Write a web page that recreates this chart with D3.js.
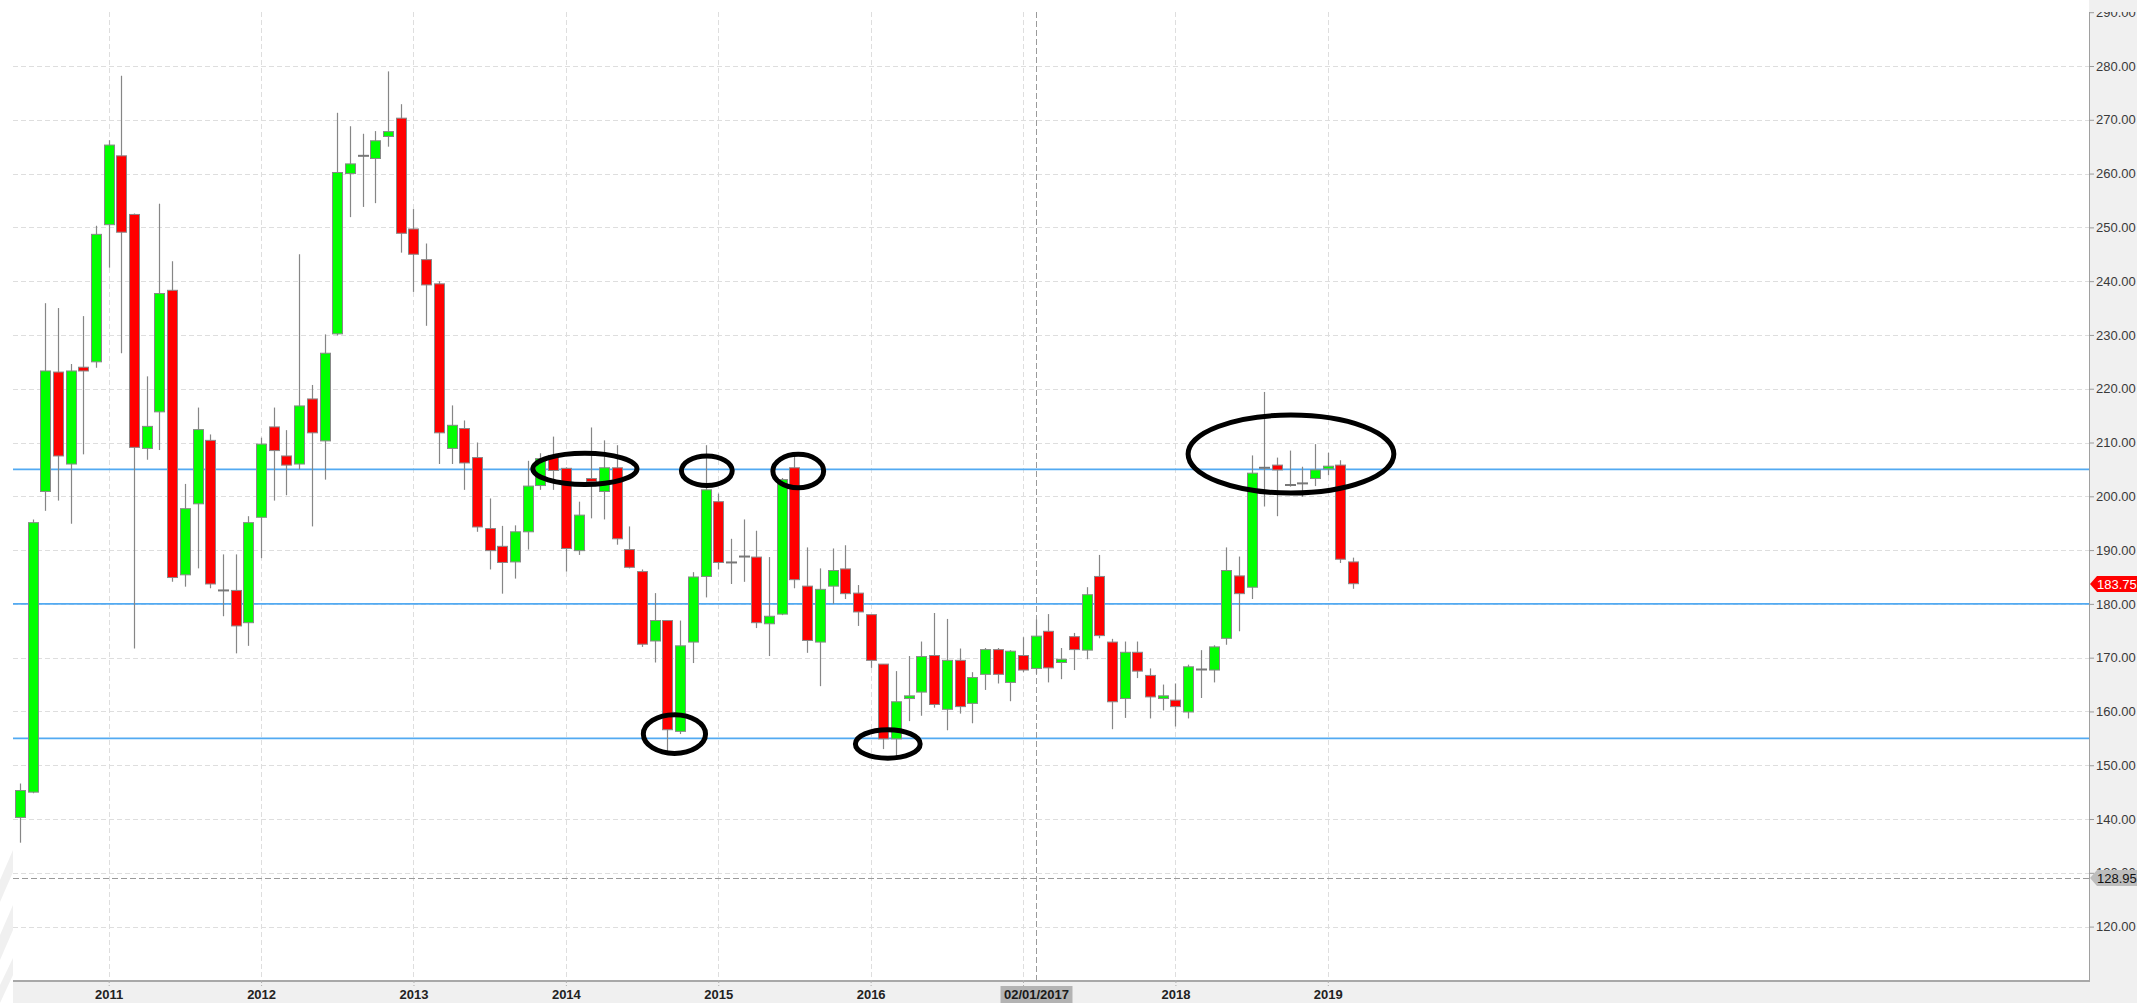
<!DOCTYPE html>
<html>
<head>
<meta charset="utf-8">
<script src="https://cdn.jsdelivr.net/npm/d3@7"></script>
<style>
  html, body { margin: 0; padding: 0; background: #fff; overflow: hidden; }
</style>
</head>
<body>
<div id="chart"></div>
<script>
// monthly candles, May 2010 .. Mar 2019
const months = [
  '2010-05','2010-06','2010-07','2010-08','2010-09','2010-10','2010-11','2010-12',
  '2011-01','2011-02','2011-03','2011-04','2011-05','2011-06','2011-07','2011-08','2011-09','2011-10','2011-11','2011-12',
  '2012-01','2012-02','2012-03','2012-04','2012-05','2012-06','2012-07','2012-08','2012-09','2012-10','2012-11','2012-12',
  '2013-01','2013-02','2013-03','2013-04','2013-05','2013-06','2013-07','2013-08','2013-09','2013-10','2013-11','2013-12',
  '2014-01','2014-02','2014-03','2014-04','2014-05','2014-06','2014-07','2014-08','2014-09','2014-10','2014-11','2014-12',
  '2015-01','2015-02','2015-03','2015-04','2015-05','2015-06','2015-07','2015-08','2015-09','2015-10','2015-11','2015-12',
  '2016-01','2016-02','2016-03','2016-04','2016-05','2016-06','2016-07','2016-08','2016-09','2016-10','2016-11','2016-12',
  '2017-01','2017-02','2017-03','2017-04','2017-05','2017-06','2017-07','2017-08','2017-09','2017-10','2017-11','2017-12',
  '2018-01','2018-02','2018-03','2018-04','2018-05','2018-06','2018-07','2018-08','2018-09','2018-10','2018-11','2018-12',
  '2019-01','2019-02','2019-03'
];
const opens = [
  136.5, 140.3, 145.0, 200.9, 223.1, 206.0, 224.0, 225.0,
  250.5, 263.3, 252.4, 208.9, 215.7, 238.3, 185.4, 198.6, 210.4, 182.5, 182.5, 176.5,
  196.1, 212.9, 207.5, 206.0, 218.1, 210.3, 230.2, 260.0, 263.3, 262.8, 266.9, 270.3,
  249.7, 244.0, 239.5, 208.9, 212.6, 207.2, 194.0, 190.7, 187.8, 193.4, 202.0, 207.6,
  205.2, 189.9, 203.3, 200.9, 205.3, 190.1, 186.0, 173.1, 176.9, 156.3, 172.9, 185.1,
  199.0, 187.7, 188.8, 188.7, 176.3, 178.1, 205.3, 183.3, 172.9, 183.3, 186.5, 182.0,
  178.0, 168.8, 154.9, 162.4, 163.6, 170.4, 160.4, 169.5, 161.5, 166.9, 171.5, 165.4,
  170.4, 168.0, 174.9, 169.1, 173.9, 171.4, 185.1, 172.9, 162.4, 171.0, 166.7, 162.4,
  162.1, 159.9, 167.8, 167.7, 173.6, 185.2, 183.1, 205.3, 205.8, 202.1, 202.4, 203.3,
  205.1, 205.8, 187.8
];
const highs = [
  140.6, 146.6, 195.7, 235.9, 235.0, 224.6, 233.5, 250.3,
  266.2, 278.2, 252.6, 222.3, 254.4, 243.7, 202.3, 216.5, 211.5, 189.2, 189.2, 196.3,
  210.9, 216.5, 212.3, 245.0, 220.7, 230.1, 271.3, 268.8, 267.4, 267.9, 279.0, 272.9,
  253.4, 247.0, 240.0, 216.9, 214.1, 210.0, 199.6, 194.5, 194.6, 206.6, 208.0, 211.1,
  205.4, 199.0, 212.8, 210.4, 209.5, 194.4, 186.4, 182.0, 176.9, 176.9, 185.9, 209.5,
  200.5, 192.1, 195.7, 193.6, 188.7, 203.4, 208.1, 190.5, 186.6, 190.3, 190.9, 183.5,
  178.0, 168.8, 167.5, 170.3, 173.0, 178.3, 177.2, 171.7, 167.3, 171.8, 171.8, 171.4,
  173.8, 177.1, 178.1, 171.8, 174.6, 183.1, 189.1, 173.5, 173.0, 173.0, 168.0, 165.0,
  165.2, 168.7, 171.4, 172.3, 190.5, 188.8, 207.6, 219.4, 207.2, 208.5, 205.5, 209.7,
  208.1, 206.7, 188.6
];
const lows = [
  134.5, 135.6, 144.8, 197.3, 199.2, 194.9, 207.8, 223.9,
  242.5, 226.6, 171.7, 206.8, 208.6, 184.1, 183.2, 186.6, 182.9, 177.7, 170.8, 172.2,
  188.5, 199.2, 200.2, 205.0, 194.4, 203.1, 229.9, 251.9, 253.8, 254.5, 265.0, 245.3,
  238.0, 231.7, 206.0, 206.0, 201.2, 193.4, 186.4, 181.9, 184.7, 190.1, 201.2, 201.2,
  186.0, 189.1, 195.9, 195.7, 191.0, 186.6, 172.0, 169.1, 151.9, 155.8, 169.0, 181.2,
  186.4, 183.7, 184.1, 175.5, 170.3, 177.9, 182.9, 170.9, 164.7, 180.0, 180.9, 175.9,
  168.1, 153.0, 151.3, 158.2, 159.2, 160.7, 156.5, 159.6, 157.8, 164.0, 165.2, 161.9,
  167.3, 167.0, 165.4, 166.0, 167.7, 169.7, 173.6, 156.7, 158.8, 166.2, 158.7, 160.2,
  157.2, 158.7, 162.5, 165.4, 172.4, 174.9, 180.9, 198.1, 196.3, 201.8, 199.9, 201.9,
  203.9, 187.6, 182.8
];
const closes = [
  139.5, 145.3, 195.1, 223.3, 207.5, 223.3, 223.3, 248.7,
  265.3, 249.1, 209.1, 213.0, 237.7, 184.9, 197.7, 212.4, 183.7, 182.5, 175.9, 195.1,
  209.7, 208.5, 205.8, 216.8, 211.8, 226.6, 260.2, 261.8, 263.3, 266.1, 267.8, 248.9,
  245.0, 239.3, 211.8, 213.2, 206.2, 194.3, 189.9, 187.7, 193.4, 201.9, 207.0, 204.8,
  190.3, 196.5, 202.7, 205.3, 192.1, 186.8, 172.5, 176.9, 156.6, 172.2, 185.0, 201.2,
  187.7, 187.7, 188.8, 176.5, 177.7, 203.1, 184.5, 173.2, 182.7, 186.2, 181.9, 178.5,
  169.5, 154.9, 161.8, 162.9, 170.2, 161.3, 169.5, 160.9, 166.3, 171.5, 166.9, 171.2,
  167.7, 174.0, 168.1, 169.7, 171.5, 181.7, 174.1, 161.8, 171.0, 167.5, 162.7, 162.9,
  160.9, 168.3, 167.8, 172.0, 186.2, 181.9, 204.3, 205.3, 204.9, 202.1, 202.4, 204.9,
  205.6, 188.3, 183.75
];

const priceTicks = [120, 130, 140, 150, 160, 170, 180, 190, 200, 210, 220, 230, 240, 250, 260, 270, 280, 290];
const yearTicks = ['2011', '2012', '2013', '2014', '2015', '2016', '2017', '2018', '2019'];
const levels = [205, 180, 155];
const lastPrice = 183.75;
const crossMonth = '2017-02';
const crossLabel = '02/01/2017';
const crossPrice = 128.95;

// hand-drawn circles: month span (months after Jan 2011) and price span
const circleFrom = [33.4, 45.1, 52.3, 42.1, 58.8, 85.0];
const circleTo   = [41.6, 49.1, 56.3, 47.0, 63.9, 101.2];
const circleLow  = [202.2, 202.0, 201.6, 152.2, 151.3, 200.6];
const circleHigh = [208.0, 207.5, 207.8, 159.4, 156.6, 215.1];

const W = 2137, H = 1003;
const plot = { left: 13, top: 12, right: 2089, bottom: 980 };

const monthIndex = s => {
  const [yy, mm] = s.split('-').map(Number);
  return (yy - 2011) * 12 + (mm - 1);
};

const data = months.map((m, i) => ({
  m: monthIndex(m), open: opens[i], high: highs[i], low: lows[i], close: closes[i]
}));

const x = d3.scaleLinear().domain([0, 96]).range([108.7, 1327.8]);
const y = d3.scaleLinear().domain([120, 280]).range([926.6, 66]);

const svg = d3.select('#chart').append('svg')
  .attr('width', W).attr('height', H)
  .style('font-family', '"Liberation Sans", Arial, sans-serif');

const defs = svg.append('defs');
defs.append('clipPath').attr('id', 'plot-clip').append('rect')
  .attr('x', plot.left).attr('y', plot.top)
  .attr('width', plot.right - plot.left).attr('height', plot.bottom - plot.top);
defs.append('clipPath').attr('id', 'yaxis-clip').append('rect')
  .attr('x', 0).attr('y', 12).attr('width', W - plot.right).attr('height', plot.bottom - 12);

// backgrounds
svg.append('rect').attr('width', W).attr('height', H).attr('fill', '#fff');
svg.append('rect').attr('x', plot.right).attr('y', 0)
  .attr('width', W - plot.right).attr('height', H).attr('fill', '#f0f0f0');
svg.append('rect').attr('x', plot.left).attr('y', plot.bottom)
  .attr('width', W - plot.left).attr('height', H - plot.bottom).attr('fill', '#f0f0f0');

// faint watermark at left edge
const wm = svg.append('g').attr('fill', '#f0f0f0');
wm.append('polygon').attr('points', '0,880 13,850 13,872 0,902');
wm.append('polygon').attr('points', '0,935 13,905 13,930 0,960');
wm.append('polygon').attr('points', '0,985 13,958 13,975 0,1003');

const plotG = svg.append('g').attr('clip-path', 'url(#plot-clip)');

// grid
plotG.append('g').selectAll('line')
  .data(priceTicks.filter(d => y(d) > plot.top + 2))
  .join('line')
  .attr('x1', plot.left).attr('x2', plot.right)
  .attr('y1', d => Math.round(y(d)) + 0.5).attr('y2', d => Math.round(y(d)) + 0.5)
  .attr('stroke', '#dedede').attr('stroke-dasharray', '5,3');

plotG.append('g').selectAll('line')
  .data(yearTicks)
  .join('line')
  .attr('x1', d => Math.round(x(monthIndex(d + '-01'))) + 0.5)
  .attr('x2', d => Math.round(x(monthIndex(d + '-01'))) + 0.5)
  .attr('y1', plot.top).attr('y2', plot.bottom)
  .attr('stroke', '#dedede').attr('stroke-dasharray', '5,3');

// support / resistance levels
plotG.append('g').selectAll('line')
  .data(levels)
  .join('line')
  .attr('x1', plot.left).attr('x2', plot.right)
  .attr('y1', d => y(d)).attr('y2', d => y(d))
  .attr('stroke', '#52aaf2').attr('stroke-width', 1.6);

// crosshair
const cx = Math.round(x(monthIndex(crossMonth))) + 0.5;
plotG.append('line')
  .attr('x1', cx).attr('x2', cx).attr('y1', plot.top).attr('y2', plot.bottom)
  .attr('stroke', '#9a9a9a').attr('stroke-dasharray', '6,3');
plotG.append('line')
  .attr('x1', plot.left).attr('x2', plot.right)
  .attr('y1', Math.round(y(crossPrice)) + 0.5).attr('y2', Math.round(y(crossPrice)) + 0.5)
  .attr('stroke', '#9a9a9a').attr('stroke-dasharray', '6,3');

// candles
const bodyW = 10;
const candles = plotG.append('g').selectAll('g').data(data).join('g');
candles.append('line')
  .attr('x1', d => Math.round(x(d.m)) + 0.5).attr('x2', d => Math.round(x(d.m)) + 0.5)
  .attr('y1', d => y(d.high)).attr('y2', d => y(d.low))
  .attr('stroke', '#868686').attr('stroke-width', 1.2);
candles.filter(d => d.open !== d.close).append('rect')
  .attr('x', d => Math.round(x(d.m)) - bodyW / 2 + 0.5)
  .attr('y', d => y(Math.max(d.open, d.close)))
  .attr('width', bodyW)
  .attr('height', d => Math.max(2, Math.abs(y(d.open) - y(d.close))))
  .attr('fill', d => d.close > d.open ? '#00ff00' : '#ff0000')
  .attr('stroke', '#888').attr('stroke-width', 1);
candles.filter(d => d.open === d.close).append('line')
  .attr('x1', d => Math.round(x(d.m)) - bodyW / 2)
  .attr('x2', d => Math.round(x(d.m)) + bodyW / 2 + 1)
  .attr('y1', d => y(d.open)).attr('y2', d => y(d.open))
  .attr('stroke', '#777').attr('stroke-width', 2);

// hand-drawn ellipses
plotG.append('g').selectAll('ellipse')
  .data(circleFrom.map((f, i) => ({ from: f, to: circleTo[i], lo: circleLow[i], hi: circleHigh[i] })))
  .join('ellipse')
  .attr('cx', d => (x(d.from) + x(d.to)) / 2)
  .attr('cy', d => (y(d.lo) + y(d.hi)) / 2)
  .attr('rx', d => (x(d.to) - x(d.from)) / 2)
  .attr('ry', d => (y(d.lo) - y(d.hi)) / 2)
  .attr('fill', 'none').attr('stroke', '#000').attr('stroke-width', 5);

// borders
svg.append('line').attr('x1', plot.right + 0.5).attr('x2', plot.right + 0.5)
  .attr('y1', plot.top).attr('y2', plot.bottom + 2)
  .attr('stroke', '#a0a0a0');
svg.append('line').attr('x1', plot.left).attr('x2', plot.right + 1)
  .attr('y1', plot.bottom + 1).attr('y2', plot.bottom + 1)
  .attr('stroke', '#a8a8a8').attr('stroke-width', 2);

// right price axis
const yAxis = d3.axisRight(y).tickValues(priceTicks)
  .tickFormat(d3.format('.2f')).tickSize(5).tickPadding(2);
const ya = svg.append('g')
  .attr('transform', `translate(${plot.right},0)`)
  .attr('clip-path', 'url(#yaxis-clip)')
  .call(yAxis)
  .attr('font-size', 13).attr('font-family', '"Liberation Sans", Arial, sans-serif');
ya.select('.domain').remove();
ya.selectAll('.tick line').attr('stroke', '#9a9a9a');
ya.selectAll('.tick text').attr('fill', '#3a3a3a');

// bottom year axis
const xAxis = d3.axisBottom(x)
  .tickValues(yearTicks.map(d => monthIndex(d + '-01')))
  .tickFormat((d, i) => yearTicks[i] === '2017' ? '' : yearTicks[i])
  .tickSize(6).tickPadding(4);
const xa = svg.append('g')
  .attr('transform', `translate(0,${plot.bottom})`)
  .call(xAxis)
  .attr('font-size', 13).attr('font-family', '"Liberation Sans", Arial, sans-serif');
xa.select('.domain').remove();
xa.selectAll('.tick line').attr('stroke', '#b0b0b0').attr('stroke-dasharray', '3,2');
xa.selectAll('.tick text').attr('fill', '#222').attr('font-weight', 'bold');

// price tags
function tag(value, fill, textFill, label) {
  const yy = Math.round(y(value));
  const g = svg.append('g');
  g.append('path')
    .attr('d', `M${plot.right + 1},${yy} L${plot.right + 8},${yy - 8} L${W},${yy - 8} L${W},${yy + 8} L${plot.right + 8},${yy + 8} Z`)
    .attr('fill', fill);
  g.append('text')
    .attr('x', plot.right + 8).attr('y', yy).attr('dy', '0.35em')
    .attr('font-size', 13).attr('fill', textFill)
    .text(label);
}
tag(crossPrice, '#bdbdbd', '#111', d3.format('.2f')(crossPrice));
tag(lastPrice, '#ff0000', '#fff', d3.format('.2f')(lastPrice));

// crosshair date label
const lg = svg.append('g');
lg.append('rect')
  .attr('x', cx - 36).attr('y', plot.bottom + 6)
  .attr('width', 72).attr('height', H - plot.bottom - 6)
  .attr('fill', '#b3b3b3');
lg.append('text')
  .attr('x', cx).attr('y', plot.bottom + 19)
  .attr('text-anchor', 'middle').attr('font-size', 13).attr('font-weight', 'bold')
  .attr('fill', '#1a1a1a')
  .text(crossLabel);
</script>
</body>
</html>
